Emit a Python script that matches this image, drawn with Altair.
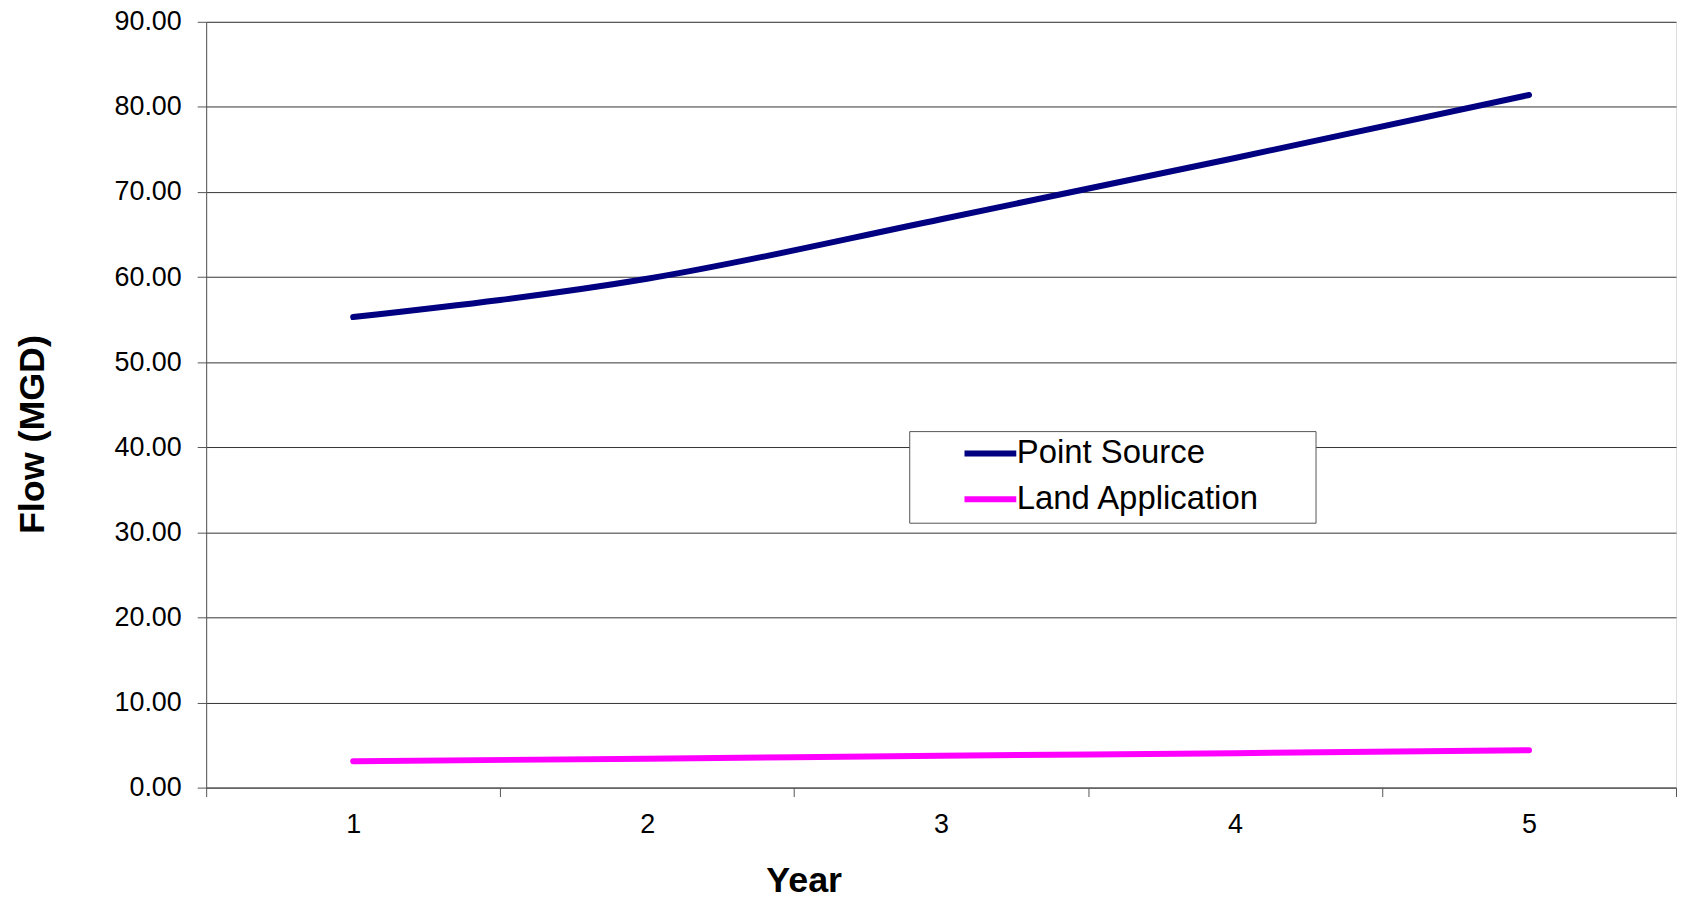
import altair as alt
import pandas as pd

years = ["1", "2", "3", "4", "5"]
point_source = [55.3, 59.8, 66.8, 74.0, 81.4]
land_application = [3.1, 3.4, 3.75, 4.05, 4.4]
series_names = ["Point Source", "Land Application"]
series_colors = ["#000080", "#FF00FF"]

rows = []
for name, vals in zip(series_names, [point_source, land_application]):
    for y, v in zip(years, vals):
        rows.append({"Year": y, "Flow": v, "Series": name})
df = pd.DataFrame(rows)

FONT = "Liberation Sans"

chart = alt.Chart(df).mark_line(
    interpolate="monotone", strokeWidth=6, strokeCap="round", strokeJoin="round"
).encode(
    x=alt.X("Year:N", sort=years, scale=alt.Scale(paddingInner=0, paddingOuter=0),
            axis=alt.Axis(title="Year", labelAngle=0, tickBand="extent", tickSize=9,
                          labelPadding=15, labelFontSize=27, labelFont=FONT, labelColor="#000",
                          domainColor="#555", tickColor="#555", grid=False,
                          titleFont=FONT, titleFontSize=36, titleFontWeight="bold",
                          titleColor="#000", titleX=600, titleY=104,
                          titleBaseline="alphabetic", titleAlign="center")),
    y=alt.Y("Flow:Q", scale=alt.Scale(domain=[0, 90], nice=False),
            axis=alt.Axis(title="Flow (MGD)", values=list(range(0, 91, 10)), format=".2f",
                          tickSize=9, labelPadding=16, labelFontSize=27, labelFont=FONT,
                          labelColor="#000", domainColor="#555", tickColor="#555",
                          grid=True, gridColor="#333", gridWidth=1,
                          titleFont=FONT, titleFontSize=36, titleFontWeight="bold",
                          titleColor="#000", titleX=-174, titleY=414, titleAngle=-90,
                          titleBaseline="middle", titleAlign="center")),
    color=alt.Color("Series:N", sort=series_names,
                    scale=alt.Scale(domain=series_names, range=series_colors),
                    legend=alt.Legend(title="x", titleOrient="right", titleOpacity=0,
                                      titleFontSize=10, titlePadding=44,
                                      orient="none", legendX=706, legendY=411,
                                      fillColor="white", strokeColor="#555", padding=6,
                                      symbolType="M-2,0H2", symbolSize=676,
                                      symbolStrokeWidth=6, symbolOffset=59,
                                      labelOffset=10, labelFontSize=33, labelFont=FONT,
                                      labelColor="#000", rowPadding=12, labelLimit=700)),
).properties(
    width=1476, height=769,
    autosize=alt.AutoSizeParams(type="none"),
    padding={"left": 199, "top": 12, "right": 2, "bottom": 112},
).configure_view(stroke="#555", strokeWidth=1).configure(background="white")

chart.save("out.html", embed_options={"renderer": "svg", "actions": False})
